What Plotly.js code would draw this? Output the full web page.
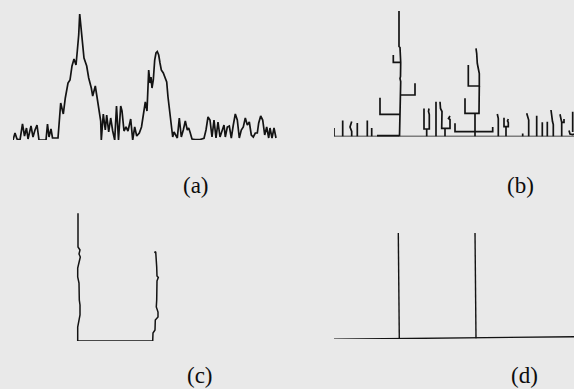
<!DOCTYPE html>
<html>
<head>
<meta charset="utf-8">
<script src="https://cdn.plot.ly/plotly-3.0.1.min.js"></script>
<style>
  html, body { margin: 0; padding: 0; background: #e9e9e9; }
  #chart { width: 574px; height: 389px; }
</style>
</head>
<body>
<div id="chart"></div>
<script>
// ---------- DATA ----------
// (a) 1-D response signal: position along the profile, response amplitude
const aPos = [0,2,4,7,9.5,11.5,13.5,15,18,20,22,24,26,29,33,34.5,36,38,39.5,42,45,
  47.7,50.3,52.3,55,57,59,61,63,64.3,65.7,66.7,68.3,69.7,71,73.7,75.7,78.3,79.7,81,82.3,83.7,85.7,87.7,
  88.3,90.3,92.3,93.7,95.7,97.7,99.7,101.7,103.5,105.5,107.7,109,111,113,115,117.7,119.7,121.7,123.7,126.3,128.5,
  131,132.3,134,135.7,137,138,139,140.3,141.7,143,144.3,145.7,147,148.3,150.3,152.3,153.7,155,157,158.3,159.7,
  161,163,164.3,166.3,168.3,170.3,172.3,174.3,175.7,177,179,182,187,191,193,195,197,199,201,203,205,207,209,
  211,212.3,214.3,216.3,218.3,220.3,222.3,224.3,226.3,228.3,230.3,232.3,234.3,236.3,238.3,240.3,242.3,244.3,
  245.7,247.7,249.7,251.7,253.7,255.7,257,259,261,263];
const aAmp = [0,7,1,0,16,4,12,1,14,3,10,15,0,0,0,16,3,11,2,2,2,
  37,26,42,57,60,74,81,75,89,105,126,107,89,82,74,62,52,44,49,54,45,34,19,
  0,26,10,25,8,22,9,0,34,0,34,29,9,13,9,21,0,13,4,7,13,
  30,38,29,70,57,63,52,60,80,87,88.5,85,77,70,67,62,58,43,23,10,3,
  8,4,2,22,3,10,19,10,12,8,1,0.5,0.5,1.7,10,23,20,3,20,2,18,3,10,
  15,3,13,14,2,15,26,20,2,10,13,22,15,18,5,3,7,7,
  17,24,20,5,13,2,12,2,12,2];

// (b) tree of ridge branches: position, height (null separates branches)
const bX = [0,240,null, 0,0,null, 8.7,8.7,null, 17.7,17.7,16,17.7,null, 23.3,23.3,null, 33.3,33.3,null, 37.7,37.7,null,
  65.5,66,66.7,66.7,66,66.5,66.7,66.7,66,66,65,65,null,
  59.3,59.3,66.7,null, 66.7,81,81,null, 46,46,66,null,
  90,90,95.3,95.3,94.5,95,null, 92.7,92.7,null, 102,102,null,
  106,106.5,108,107.7,116,116,114.5,116,null, 111,111,null,
  141,141,null, 121,121,158.7,158.7,null, 141,141,null,
  131,131,145,145,145.3,145.3,null, 134.3,134.3,145.3,145.3,144.3,143.3,142.7,142,null,
  164.3,164.3,163.3,null, 172,172,null, 170,170,174.3,174.3,173.5,174.3,null,
  188.7,188.7,null, 194.7,194.7,192.7,null, 202.7,202.7,null, 208.3,208.3,null, 213.3,213.3,null,
  219.3,219.3,218.5,217,null, 227.7,227.7,226,null, 227.7,230,230,null,
  238.7,238.7,null, 235,236,238.7,240];
const bH = [0,0,null, 0,8.5,null, 0,16,null, 0,5,9.5,15,null, 0,13.5,null, 0,16,null, 0,8.5,null,
  0,22.2,41.5,55,58,60,74.2,81,83,89,90,125.5,null,
  81.5,74.2,74.2,null, 41.5,41.5,53.2,null, 38.8,22.2,22.2,null,
  28,7.5,7.5,22,25,28,null, 0,7.5,null, 0,34.8,null,
  34.8,28,25,8.2,8.2,17,18,20.5,null, 0,8.2,null,
  0,4.8,null, 13.2,4.8,4.8,9.5,null, 4.8,23.2,null,
  38.2,23.2,23.2,30,40,50.5,null, 71.5,50.5,50.5,63,68,73,83,88.2,null,
  0,18,22.5,null, 0,9.8,null, 18.8,9.8,9.8,14,15.5,17.5,null,
  0,3,null, 0,16.5,23.2,null, 0,20.8,null, 0,14.2,null, 0,14.8,null,
  0,12,15,26.5,null, 0,14.2,22.2,null, 14.2,14.2,17.5,null,
  4.5,24.8,null, 6,2.5,2,2.5];
const bThickX = [43, 65];
const bThickH = [0.3, 0.3];

// (c) ridge extent: position, height
const cX = [65,65,67,66,67.3,66.3,64.7,64.7,66,66.3,67,67,66,65.7,64.7,64.7,
  139.7,140,142,142.3,145,145,143.3,143.7,144,145.3,144,143.7,143,142.7,141.3];
const cH = [127.7,94,91,87,84,79,73,64,58,41,36,26,22,19,14,0.3,
  0,8,11,21,24,29,34,41,60,63.5,65,74,83,89.3,88.3];

// (d) detected ridges: position, height
const dX = [-4,240,null, 64.3,65.3,null, 141,142];
const dH = [-0.3,2.3,null, 106.3,-0.3,null, 107.3,0.7];

const panelLabels = ['(a)', '(b)', '(c)', '(d)'];

// ---------- LAYOUT HELPERS ----------
const W = 574, H = 389;
const xd = (p0, p1) => [p0 / W, p1 / W];
const yd = (pBottom, pTop) => [(H - pBottom) / H, (H - pTop) / H];
const INK = '#131313';

function hidden(domain, range, anchor) {
  return { domain: domain, range: range, anchor: anchor, visible: false, fixedrange: true };
}

const traces = [
  { x: aPos, y: aAmp, xaxis: 'x', yaxis: 'y', type: 'scatter', mode: 'lines',
    line: { color: INK, width: 1.7 }, cliponaxis: false, connectgaps: false },
  { x: bX, y: bH, xaxis: 'x2', yaxis: 'y2', type: 'scatter', mode: 'lines',
    line: { color: INK, width: 1.7 }, cliponaxis: false, connectgaps: false },
  { x: bThickX, y: bThickH, xaxis: 'x2', yaxis: 'y2', type: 'scatter', mode: 'lines',
    line: { color: INK, width: 3 }, cliponaxis: false },
  { x: cX, y: cH, xaxis: 'x3', yaxis: 'y3', type: 'scatter', mode: 'lines',
    line: { color: INK, width: 1.5 }, cliponaxis: false },
  { x: dX, y: dH, xaxis: 'x4', yaxis: 'y4', type: 'scatter', mode: 'lines',
    line: { color: INK, width: 1.4 }, cliponaxis: false, connectgaps: false }
];

const labelPos = [[196, 186], [520, 185], [200, 375], [524, 375]];

const layout = {
  width: W, height: H,
  margin: { l: 0, r: 0, t: 0, b: 0, pad: 0 },
  paper_bgcolor: '#e9e9e9',
  plot_bgcolor: 'rgba(0,0,0,0)',
  showlegend: false,
  xaxis:  hidden(xd(13, 277),  [0, 264],   'y'),
  yaxis:  hidden(yd(140, 14),  [0, 126],   'x'),
  xaxis2: hidden(xd(334, 574), [0, 240],   'y2'),
  yaxis2: hidden(yd(136.5, 11), [0, 125.5], 'x2'),
  xaxis3: hidden(xd(13, 277),  [0, 264],   'y3'),
  yaxis3: hidden(yd(341, 213), [0, 128],   'x3'),
  xaxis4: hidden(xd(334, 574), [0, 240],   'y4'),
  yaxis4: hidden(yd(339, 233), [0, 106],   'x4'),
  annotations: panelLabels.map((t, i) => ({
    text: t, xref: 'paper', yref: 'paper',
    x: labelPos[i][0] / W, y: (H - labelPos[i][1]) / H,
    xanchor: 'center', yanchor: 'middle', showarrow: false,
    font: { family: 'Liberation Serif, Times New Roman, serif', size: 23, color: '#0d0d0d' }
  }))
};

Plotly.newPlot('chart', traces, layout, { displayModeBar: false, staticPlot: true });
</script>
</body>
</html>
